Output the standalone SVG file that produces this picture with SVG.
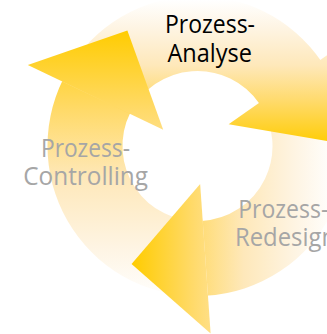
<svg xmlns="http://www.w3.org/2000/svg" width="327" height="334" viewBox="0 0 327 334">
  <defs>
    <linearGradient id="gB" gradientUnits="userSpaceOnUse" x1="132" y1="0" x2="335" y2="0">
      <stop offset="0" stop-color="#FFCC00"/>
      <stop offset="0.3" stop-color="#FFDA6A"/>
      <stop offset="0.55" stop-color="#FEE8BA"/>
      <stop offset="0.8" stop-color="#FEF4E2"/>
      <stop offset="1" stop-color="#FFFFFF"/>
    </linearGradient>
    <linearGradient id="gL" gradientUnits="userSpaceOnUse" x1="0" y1="30" x2="0" y2="300">
      <stop offset="0" stop-color="#FFCC00"/>
      <stop offset="0.3" stop-color="#FFDA6A"/>
      <stop offset="0.55" stop-color="#FEE8BA"/>
      <stop offset="0.8" stop-color="#FEF4E2"/>
      <stop offset="1" stop-color="#FFFFFF"/>
    </linearGradient>
    <linearGradient id="gT" gradientUnits="userSpaceOnUse" x1="0" y1="145" x2="0" y2="0">
      <stop offset="0" stop-color="#FFCC00"/>
      <stop offset="0.3" stop-color="#FFDA6A"/>
      <stop offset="0.55" stop-color="#FEE8BA"/>
      <stop offset="0.8" stop-color="#FEF4E2"/>
      <stop offset="1" stop-color="#FFFFFF"/>
    </linearGradient>
  </defs>
  <style>
    .lbl { font-family: "Open Sans", "Noto Sans", "Liberation Sans", sans-serif; font-size: 26px; }
    .active { fill: #000000; }
    .inactive { fill: #A6A6A6; }
  </style>
  <rect width="327" height="334" fill="#FFFFFF"/>
  <g id="arrows">
    <g id="bodies">
      <path id="body-redesign" fill="url(#gB)" d="M 320.37,59.96 A 150 150 0 0 1 205.35,295.79 L 201.43,220.90 A 75 75 0 0 0 258.94,102.98 Z"/>
      <path id="body-controlling" fill="url(#gL)" d="M 207.96,295.63 A 150 150 0 0 1 63.26,79.07 L 130.38,112.53 A 75 75 0 0 0 202.73,220.82 Z"/>
      <path id="body-analyse" fill="url(#gT)" d="M 62.11,81.42 A 150 150 0 0 1 321.86,62.12 L 259.68,104.06 A 75 75 0 0 0 129.81,113.71 Z"/>
    </g>
    <g id="heads">
      <polygon id="head-redesign" fill="url(#gB)" points="200.15,183.91 210.62,333.54 131.56,263.88"/>
      <polygon id="head-controlling" fill="url(#gL)" points="163.20,129.64 27.81,65.06 127.37,30.56"/>
      <polygon id="head-analyse" fill="url(#gT)" points="351.50,38.17 228.63,124.20 332.50,141.81"/>
    </g>
  </g>
  <g id="node-analyse">
    <text class="lbl active" x="165" y="33.3" textLength="90" lengthAdjust="spacingAndGlyphs">Prozess-</text>
    <text class="lbl active" x="167.5" y="61.7" textLength="84.5" lengthAdjust="spacingAndGlyphs">Analyse</text>
  </g>
  <g id="node-controlling">
    <text class="lbl inactive" x="41" y="156.7" textLength="89" lengthAdjust="spacingAndGlyphs">Prozess-</text>
    <text class="lbl inactive" x="23.3" y="185" textLength="124.7" lengthAdjust="spacingAndGlyphs">Controlling</text>
  </g>
  <g id="node-redesign">
    <text class="lbl inactive" x="238.3" y="218.3" textLength="90" lengthAdjust="spacingAndGlyphs">Prozess-</text>
    <text class="lbl inactive" x="235" y="246" textLength="101" lengthAdjust="spacingAndGlyphs">Redesign</text>
  </g>
</svg>
